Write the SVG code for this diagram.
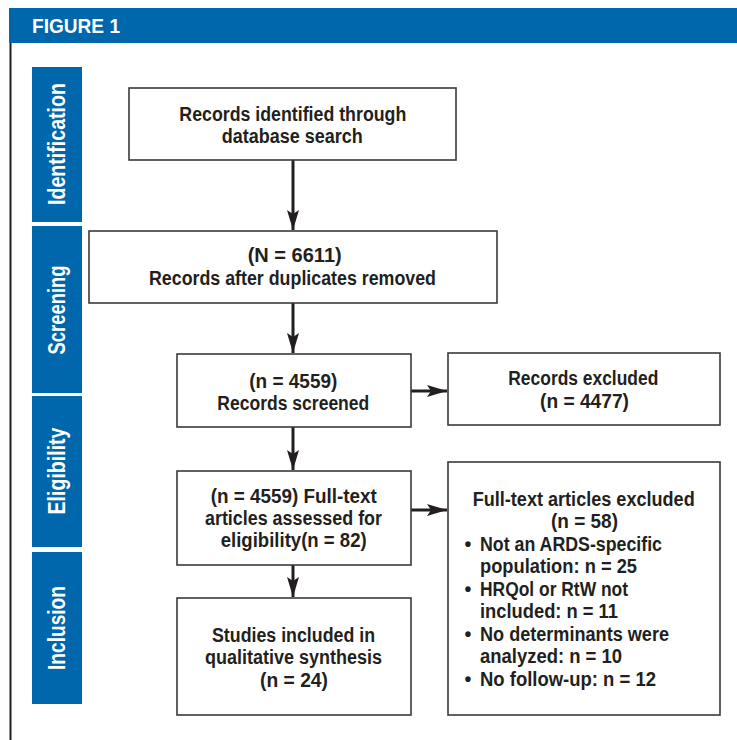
<svg xmlns="http://www.w3.org/2000/svg" width="737" height="740" viewBox="0 0 737 740">
<style>
.box{fill:#fff;stroke:#3a3a3a;stroke-width:1.6}
.tab{fill:#0067ac}
.t{font-family:"Liberation Sans",Arial,sans-serif;font-size:19.5px;font-weight:bold;fill:#231f20}
.tabt{font-family:"Liberation Sans",Arial,sans-serif;font-size:23px;font-weight:bold;fill:#fff;text-anchor:middle}
.ln{stroke:#231f20;stroke-width:3;fill:none}
</style>
<defs>
<marker id="ah" viewBox="0 0 20 12" refX="20" refY="6" markerWidth="20" markerHeight="12" markerUnits="userSpaceOnUse" orient="auto">
<path d="M0,0 L20,6 L0,12 L4,6 Z" fill="#231f20"/>
</marker>
</defs>
<rect width="737" height="740" fill="#fff"/>
<g id="header">
<rect x="9" y="8" width="728" height="35" fill="#0067ac"/>
<text x="32" y="33" font-family="Liberation Sans,Arial,sans-serif" font-size="21" font-weight="bold" fill="#fff" textLength="88" lengthAdjust="spacingAndGlyphs">FIGURE 1</text>
<line x1="10.5" y1="43" x2="10.5" y2="740" stroke="#231f20" stroke-width="2"/>
</g>
<g id="tab-identification">
<rect class="tab" x="32" y="67" width="50" height="155"/>
<text class="tabt" transform="translate(65,144) rotate(-90)" textLength="122" lengthAdjust="spacingAndGlyphs">Identification</text>
</g>
<g id="tab-screening">
<rect class="tab" x="32" y="226" width="50" height="167"/>
<text class="tabt" transform="translate(65,310) rotate(-90)" textLength="89" lengthAdjust="spacingAndGlyphs">Screening</text>
</g>
<g id="tab-eligibility">
<rect class="tab" x="32" y="396" width="50" height="151"/>
<text class="tabt" transform="translate(65,471) rotate(-90)" textLength="87" lengthAdjust="spacingAndGlyphs">Eligibility</text>
</g>
<g id="tab-inclusion">
<rect class="tab" x="32" y="552" width="50" height="152"/>
<text class="tabt" transform="translate(65,628) rotate(-90)" textLength="84" lengthAdjust="spacingAndGlyphs">Inclusion</text>
</g>
<g id="connectors">
<line class="ln" x1="293" y1="160" x2="293" y2="230" marker-end="url(#ah)"/>
<line class="ln" x1="293" y1="303" x2="293" y2="353" marker-end="url(#ah)"/>
<line class="ln" x1="293" y1="427" x2="293" y2="470" marker-end="url(#ah)"/>
<line class="ln" x1="293" y1="565" x2="293" y2="597" marker-end="url(#ah)"/>
<line class="ln" x1="411" y1="391" x2="447" y2="391" marker-end="url(#ah)"/>
<line class="ln" x1="411" y1="510" x2="447" y2="510" marker-end="url(#ah)"/>
</g>
<g id="n1">
<rect class="box" x="129" y="88" width="327" height="72"/>
<text class="t" x="179.3" y="121" textLength="227" lengthAdjust="spacingAndGlyphs">Records identified through</text>
<text class="t" x="221.7" y="143" textLength="141" lengthAdjust="spacingAndGlyphs">database search</text>
</g>
<g id="n2">
<rect class="box" x="89" y="231" width="408" height="72"/>
<text class="t" x="247.7" y="262" textLength="94" lengthAdjust="spacingAndGlyphs">(N = 6611)</text>
<text class="t" x="149" y="285" textLength="287" lengthAdjust="spacingAndGlyphs">Records after duplicates removed</text>
</g>
<g id="n3">
<rect class="box" x="177" y="354" width="234" height="73"/>
<text class="t" x="249.3" y="388" textLength="88" lengthAdjust="spacingAndGlyphs">(n = 4559)</text>
<text class="t" x="217.3" y="410" textLength="152" lengthAdjust="spacingAndGlyphs">Records screened</text>
</g>
<g id="n4">
<rect class="box" x="448" y="353" width="272" height="72"/>
<text class="t" x="508.3" y="385" textLength="150" lengthAdjust="spacingAndGlyphs">Records excluded</text>
<text class="t" x="540" y="408" textLength="89" lengthAdjust="spacingAndGlyphs">(n = 4477)</text>
</g>
<g id="n5">
<rect class="box" x="177" y="471" width="234" height="94"/>
<text class="t" x="210.7" y="503" textLength="166" lengthAdjust="spacingAndGlyphs">(n = 4559) Full-text</text>
<text class="t" x="205" y="525" textLength="177" lengthAdjust="spacingAndGlyphs">articles assessed for</text>
<text class="t" x="220.7" y="547" textLength="146" lengthAdjust="spacingAndGlyphs">eligibility(n = 82)</text>
</g>
<g id="n6">
<rect class="box" x="448" y="462" width="272" height="253"/>
<text class="t" x="472.7" y="506" textLength="222" lengthAdjust="spacingAndGlyphs">Full-text articles excluded</text>
<text class="t" x="551" y="528" textLength="67" lengthAdjust="spacingAndGlyphs">(n = 58)</text>
<text class="t" x="464.5" y="551">•</text>
<text class="t" x="480" y="551" textLength="182" lengthAdjust="spacingAndGlyphs">Not an ARDS-specific</text>
<text class="t" x="480" y="573" textLength="157" lengthAdjust="spacingAndGlyphs">population: n = 25</text>
<text class="t" x="464.5" y="596">•</text>
<text class="t" x="480" y="596" textLength="148" lengthAdjust="spacingAndGlyphs">HRQol or RtW not</text>
<text class="t" x="480" y="618" textLength="138" lengthAdjust="spacingAndGlyphs">included: n = 11</text>
<text class="t" x="464.5" y="641">•</text>
<text class="t" x="480" y="641" textLength="189" lengthAdjust="spacingAndGlyphs">No determinants were</text>
<text class="t" x="480" y="663" textLength="142" lengthAdjust="spacingAndGlyphs">analyzed: n = 10</text>
<text class="t" x="464.5" y="686">•</text>
<text class="t" x="480" y="686" textLength="176" lengthAdjust="spacingAndGlyphs">No follow-up: n = 12</text>
</g>
<g id="n7">
<rect class="box" x="177" y="598" width="234" height="117"/>
<text class="t" x="212" y="642" textLength="163" lengthAdjust="spacingAndGlyphs">Studies included in</text>
<text class="t" x="205" y="664" textLength="177" lengthAdjust="spacingAndGlyphs">qualitative synthesis</text>
<text class="t" x="260" y="687" textLength="68" lengthAdjust="spacingAndGlyphs">(n = 24)</text>
</g>
</svg>
